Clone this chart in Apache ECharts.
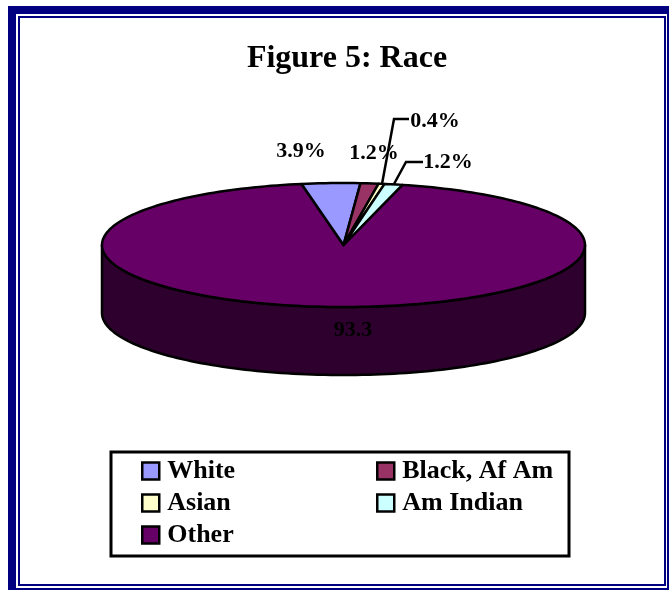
<!DOCTYPE html>
<html>
<head>
<meta charset="utf-8">
<title>Figure 5: Race</title>
<style>
  html, body { margin: 0; padding: 0; background: #fff; }
  #main { width: 669px; height: 590px; }
</style>
<script src="https://cdn.jsdelivr.net/npm/echarts@6/dist/echarts.min.js"></script>
</head>
<body>
<div id="main"></div>
<script>
const categories = ['White', 'Black, Af Am', 'Asian', 'Am Indian', 'Other'];
const values = [3.9, 1.2, 0.4, 1.2, 93.3];
const valueLabels = ['3.9%', '1.2%', '0.4%', '1.2%', '93.3'];
const colors = ['#9999ff', '#993366', '#ffffcc', '#ccffff', '#660066'];

const FONT = '"Liberation Serif", "Times New Roman", serif';
const NAVY = '#000080';
const WALL = '#2e002e';

// pie geometry
const cx = 343.5, cy = 245, rx = 241.5, ry = 62, depth = 68;
const startDeg = -10;
const total = values.reduce(function (a, b) { return a + b; }, 0);

// where each label sits, leader lines only for the two crowded ones
const labelAt = [[301, 151], [374, 153], [435, 121], [448, 162], [353, 330]];
const leaders = {
  2: [[382, 184], [394, 119], [409, 119]],
  3: [[394, 184], [406, 162], [423, 162]]
};

function edge(deg, dy) {
  const a = deg * Math.PI / 180;
  return [cx + rx * Math.sin(a), cy - ry * Math.cos(a) + (dy || 0)];
}

function arc(from, to, dy) {
  const pts = [];
  const n = Math.max(2, Math.ceil(Math.abs(to - from) / 1.5));
  for (let i = 0; i <= n; i++) {
    pts.push(edge(from + (to - from) * i / n, dy));
  }
  return pts;
}

function sliceItem(idx) {
  return function (params, api) {
    let before = 0;
    for (let i = 0; i < idx; i++) before += values[i];
    const from = startDeg + before / total * 360;
    const to = from + api.value(0) / total * 360;
    const children = [];
    const line = { stroke: '#000', lineWidth: 2.5, lineJoin: 'round' };

    // only the big slice shows its side, front half of the ellipse
    const wallFrom = Math.max(from, 90), wallTo = Math.min(to, 270);
    if (wallTo > wallFrom) {
      const wall = arc(wallFrom, wallTo, 0).concat(arc(wallTo, wallFrom, depth));
      children.push({
        type: 'polygon',
        shape: { points: wall },
        style: Object.assign({ fill: WALL }, line)
      });
    }
    children.push({
      type: 'polygon',
      shape: { points: [[cx, cy]].concat(arc(from, to, 0)) },
      style: Object.assign({ fill: colors[idx] }, line)
    });
    children.push({
      type: 'text',
      x: labelAt[idx][0],
      y: labelAt[idx][1],
      style: {
        text: valueLabels[idx],
        fill: '#000',
        font: 'bold 22px ' + FONT,
        align: 'center',
        verticalAlign: 'middle'
      }
    });
    if (leaders[idx]) {
      children.push({
        type: 'polyline',
        shape: { points: leaders[idx] },
        style: { stroke: '#000', lineWidth: 2.5, fill: null }
      });
    }
    return { type: 'group', children: children };
  };
}

const chart = echarts.init(document.getElementById('main'), null, { renderer: 'canvas' });

const legendBase = {
  orient: 'vertical',
  top: 453,
  icon: 'rect',
  itemWidth: 17,
  itemHeight: 17,
  itemGap: 6,
  selectedMode: false,
  itemStyle: { borderColor: '#000', borderWidth: 2.5 },
  textStyle: {
    color: '#000',
    fontFamily: FONT,
    fontWeight: 'bold',
    fontSize: 26,
    padding: [0, 0, 0, 3]
  }
};

chart.setOption({
  backgroundColor: '#fff',
  animation: false,
  title: {
    text: 'Figure 5: Race',
    left: 342,
    top: 38,
    textAlign: 'center',
    textStyle: { color: '#000', fontFamily: FONT, fontWeight: 'bold', fontSize: 32 }
  },
  legend: [
    Object.assign({}, legendBase, { left: 136, data: [categories[0], categories[2], categories[4]] }),
    Object.assign({}, legendBase, { left: 371, data: [categories[1], categories[3]] })
  ],
  graphic: [
    { type: 'rect', shape: { x: 8, y: 6, width: 661, height: 584 }, style: { fill: NAVY }, z: -5 },
    { type: 'rect', shape: { x: 16, y: 14, width: 651, height: 574 }, style: { fill: '#fff' }, z: -4 },
    { type: 'rect', shape: { x: 18, y: 16, width: 648, height: 570 }, style: { fill: NAVY }, z: -3 },
    { type: 'rect', shape: { x: 20, y: 18, width: 644, height: 566 }, style: { fill: '#fff' }, z: -2 },
    {
      type: 'rect',
      shape: { x: 111, y: 452, width: 458, height: 104 },
      style: { fill: '#fff', stroke: '#000', lineWidth: 3 },
      z: -1
    }
  ],
  series: categories.map(function (name, i) {
    return {
      type: 'custom',
      name: name,
      coordinateSystem: 'none',
      renderItem: sliceItem(i),
      itemStyle: { color: colors[i] },
      data: [[values[i]]],
      silent: true,
      z: i === 4 ? 1 : 2 + i
    };
  })
});
</script>
</body>
</html>
